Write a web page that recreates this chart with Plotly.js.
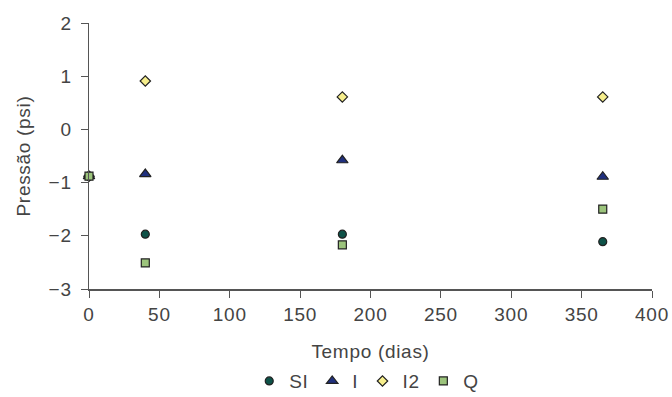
<!DOCTYPE html>
<html><head><meta charset="utf-8">
<script src="https://cdn.plot.ly/plotly-3.0.1.min.js"></script>
<style>body{margin:0;padding:0;background:#fff}#chart{width:672px;height:397px}
.main-svg text{letter-spacing:0.7px}</style>
</head><body><div id="chart"></div>
<script>
const days = [0, 40, 180, 365];
const seriesNames = ["SI", "I", "I2", "Q"];
const valuesSI = [-0.88, -1.97, -1.97, -2.11];
const valuesI  = [-0.88, -0.84, -0.58, -0.89];
const valuesI2 = [-0.88, 0.91, 0.61, 0.61];
const valuesQ  = [-0.88, -2.51, -2.17, -1.50];
const yTicks = [-3, -2, -1, 0, 1, 2];
const xTicks = [0, 50, 100, 150, 200, 250, 300, 350, 400];

const styles = [
  {symbol: "circle", color: "#0e5248", size: 8},
  {symbol: "triangle-up", color: "#20307e", size: 10},
  {symbol: "diamond", color: "#f6ee8c", size: 8},
  {symbol: "square", color: "#9cc47c", size: 8}
];
const allVals = [valuesSI, valuesI, valuesI2, valuesQ];
const traces = allVals.map((v, i) => ({
  x: days, y: v, name: seriesNames[i], type: "scatter", mode: "markers",
  cliponaxis: false,
  marker: {symbol: styles[i].symbol, color: styles[i].color, size: styles[i].size,
           line: {color: "#222", width: 1.2}}
}));
const ordered = [traces[2], traces[0], traces[1], traces[3]];
ordered.forEach(t => { t.legendrank = seriesNames.indexOf(t.name) + 1; });
const font = {family: "'Liberation Sans', Arial, sans-serif", size: 19, color: "#444"};
const layout = {
  width: 672, height: 397,
  margin: {l: 89, r: 20, t: 23, b: 108, autoexpand: false},
  paper_bgcolor: "#fff", plot_bgcolor: "#fff",
  font: font,
  showlegend: true,
  legend: {orientation: "h", x: 0.545, xanchor: "center", xref: "container",
           y: 0.04, yanchor: "middle", yref: "container",
           traceorder: "normal", font: font, itemwidth: 30, itemgap: 0},
  xaxis: {range: [0, 400], tickvals: xTicks, ticks: "outside", ticklen: 7, tickcolor: "#555",
          ticklabelstandoff: 1,
          showline: true, linecolor: "#555", linewidth: 1.5, showgrid: false, zeroline: false,
          title: {text: "Tempo (dias)", font: font, standoff: 27}, tickfont: font},
  yaxis: {range: [-3, 2], tickvals: yTicks, ticks: "outside", ticklen: 7, tickcolor: "#555",
          ticklabelstandoff: 5,
          showline: true, linecolor: "#555", linewidth: 1.5, showgrid: false, zeroline: false,
          title: {text: "Pressão (psi)", font: font, standoff: 14}, tickfont: font}
};
Plotly.newPlot("chart", ordered, layout, {displayModeBar: false, staticPlot: true});
</script></body></html>
